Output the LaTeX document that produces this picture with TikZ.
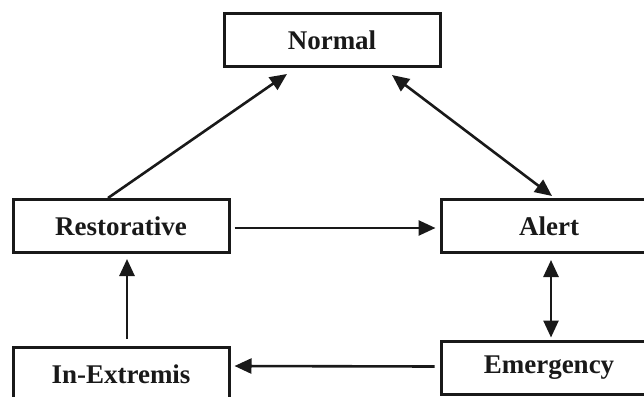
\documentclass[tikz,border=0pt]{standalone}
\usepackage{fontspec}
\setmainfont{Liberation Serif}
\usetikzlibrary{arrows.meta,calc}
\tikzset{
  state/.style={draw=black!90, line width=3pt, rectangle, inner sep=0pt,
    minimum width=216pt, minimum height=53pt,
    font=\fontsize{27}{30}\selectfont\bfseries, text=black!90},
  link/.style={line width=2.6pt, draw=black!90,
    -{Triangle[length=17pt,width=15pt]}},
  dlink/.style={line width=2.6pt, draw=black!90,
    {Triangle[length=17pt,width=15pt]}-{Triangle[length=17pt,width=15pt]}}
}
\begin{document}
\begin{tikzpicture}[x=1pt,y=-1pt]
  \useasboundingbox (0,0) rectangle (644,396);
  % operating states
  \node[state] (normal) at (332,40) {Normal};
  \node[state] (rest) at (121,226) {Restorative};
  \node[state] (alert) at (549,226) {Alert};
  \node[state] (emerg) at (549,367.5) {Emergency};
  \node[state] (inext) at (121,374) {In-Extremis};
  % transitions between states
  \draw[link] ($(rest.north)+(-13,0)$) -- ($(normal.south)+(-45,6)$);
  \draw[dlink] ($(normal.south)+(60,7)$) -- ($(alert.north)+(3,-2)$);
  \draw[link] ($(rest.east)+(4,2)$) -- ($(alert.west)+(-4,2)$);
  \draw[dlink] ($(alert.south)+(2,6)$) -- ($(emerg.north)+(2,-2)$);
  \draw[link] ($(inext.north)+(6,-7)$) -- ($(rest.south)+(6,5)$);
  \draw[link] ($(emerg.west)+(-5,-1)$) -- ($(inext.east)+(4,-8)$);
\end{tikzpicture}
\end{document}
